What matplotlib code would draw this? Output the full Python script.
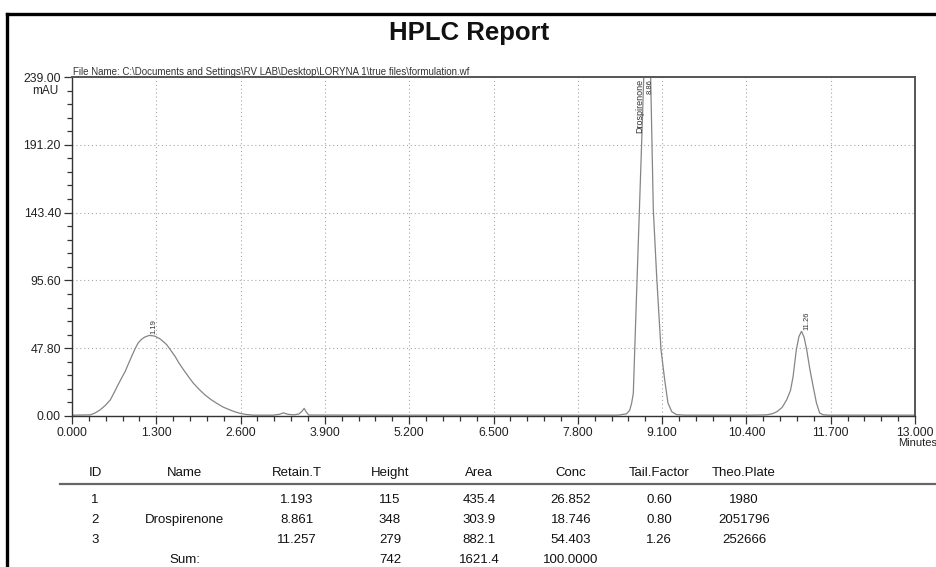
import numpy as np
import matplotlib
matplotlib.use('Agg')
import matplotlib.pyplot as plt
from matplotlib.lines import Line2D
from matplotlib.ticker import MultipleLocator, FormatStrFormatter

plt.rcParams['font.family'] = ['Liberation Sans', 'DejaVu Sans']

W, H = 936, 567

# detector trace (minutes, mAU)
trace_time = [0.00, 0.28, 0.35, 0.43, 0.51, 0.59, 0.65, 0.71, 0.765, 0.82, 0.87, 0.92,
              0.97, 1.02, 1.07, 1.12, 1.19, 1.27, 1.35, 1.40, 1.46, 1.52, 1.59, 1.65,
              1.72, 1.80, 1.87, 1.96, 2.05, 2.14, 2.23, 2.33, 2.44, 2.51, 2.59, 2.68, 2.80,
              3.10, 3.20, 3.26, 3.33, 3.42, 3.50, 3.55, 3.58, 3.61, 3.65,
              5.00, 7.00, 8.42, 8.55, 8.60, 8.63, 8.656, 8.707, 8.785, 8.88,
              8.924, 8.964, 9.016, 9.083, 9.14, 9.19, 9.25, 9.32, 9.45,
              10.50, 10.71, 10.80, 10.87, 10.95, 11.02, 11.08, 11.12, 11.17, 11.21, 11.25,
              11.29, 11.33, 11.38, 11.43, 11.48, 11.53, 11.58, 11.66, 13.00]
trace_mau = [0.6, 0.8, 2.0, 4.2, 7.3, 11.3, 16.5, 22.0, 26.8, 31.4, 36.8, 42.0,
             47.2, 51.5, 54.0, 55.6, 56.8, 56.4, 54.6, 52.8, 50.3, 46.5, 42.0, 37.3,
             32.6, 27.5, 23.2, 18.8, 14.9, 11.7, 9.0, 6.3, 4.2, 3.0, 1.9, 1.1, 0.6,
             0.6, 1.2, 2.2, 1.2, 0.8, 1.4, 3.5, 5.4, 3.0, 0.7,
             0.6, 0.6, 0.6, 1.5, 4.0, 9.0, 16.0, 87.0, 193.0, 330.0,
             238.0, 146.0, 98.6, 46.7, 25.5, 9.2, 3.0, 1.0, 0.6,
             0.6, 0.8, 1.6, 3.0, 6.0, 11.3, 18.0, 27.8, 46.7, 56.0, 59.7,
             55.5, 46.7, 32.6, 20.7, 9.2, 2.1, 0.9, 0.6, 0.6]

# peak annotations
peak_rt = [1.19, 8.86, 11.26]
peak_top = [56.8, 239.0, 59.7]
peak_name = ['', 'Drospirenone', '']

# result table
col_names = ['ID', 'Name', 'Retain.T', 'Height', 'Area', 'Conc', 'Tail.Factor', 'Theo.Plate']
ids = ['1', '2', '3']
names = ['', 'Drospirenone', '']
retain_t = ['1.193', '8.861', '11.257']
heights = ['115', '348', '279']
areas = ['435.4', '303.9', '882.1']
concs = ['26.852', '18.746', '54.403']
tail_factor = ['0.60', '0.80', '1.26']
theo_plate = ['1980', '2051796', '252666']
sum_row = ['', 'Sum:', '', '742', '1621.4', '100.0000', '', '']

file_name = r'File Name: C:\Documents and Settings\RV LAB\Desktop\LORYNA 1\true files\formulation.wf'


def fx(px):
    return px / W


def fy(py):
    return 1 - py / H


fig = plt.figure(figsize=(9.36, 5.67), dpi=100)
fig.patch.set_facecolor('white')

# outer report frame (only top and left visible)
fig.add_artist(Line2D([fx(7), fx(7)], [fy(14), fy(567)], color='black', lw=2.4))
fig.add_artist(Line2D([fx(7), fx(936)], [fy(14), fy(14)], color='black', lw=2.4))

fig.text(fx(469), fy(33), 'HPLC Report', fontsize=18.5, fontweight='bold',
         ha='center', va='center', color='#111111')

ax = fig.add_axes([fx(72), fy(416), fx(915) - fx(72), fy(77) - fy(416)])
ax.plot(trace_time, trace_mau, color='#858585', lw=0.9)
ax.set_xlim(0, 13)
ax.set_ylim(0, 239)

ax.xaxis.set_major_locator(MultipleLocator(1.3))
ax.xaxis.set_minor_locator(MultipleLocator(0.26))
ax.yaxis.set_major_locator(MultipleLocator(47.8))
ax.yaxis.set_minor_locator(MultipleLocator(9.56))
ax.xaxis.set_major_formatter(FormatStrFormatter('%.3f'))
ax.yaxis.set_major_formatter(FormatStrFormatter('%.2f'))
ax.tick_params(which='major', direction='out', length=6, width=0.9, color='#333333',
               labelsize=8.8, labelcolor='#222222', pad=2)
ax.tick_params(which='minor', direction='out', length=3.5, width=0.9, color='#333333')
ax.grid(True, which='major', linestyle=(0, (1, 2.5)), color='#a8a8a8', lw=0.8)

for side in ['left', 'bottom']:
    ax.spines[side].set_color('#333333')
    ax.spines[side].set_linewidth(1.0)
for side in ['top', 'right']:
    ax.spines[side].set_color('#555555')
    ax.spines[side].set_linewidth(1.4)

# peak labels
for rt, top, name in zip(peak_rt, peak_top, peak_name):
    if name:
        ax.annotate(name, xy=(rt, top), xytext=(-5, -1.5), textcoords='offset points',
                    rotation=90, ha='center', va='top', fontsize=6.5, color='#333333')
        ax.annotate('%.2f' % rt, xy=(rt, top), xytext=(2.5, -1.5), textcoords='offset points',
                    rotation=90, ha='center', va='top', fontsize=5.5, color='#333333')
    else:
        ax.annotate('%.2f' % rt, xy=(rt, top), xytext=(3.5, 1.0), textcoords='offset points',
                    rotation=90, ha='center', va='bottom', fontsize=5.5, color='#333333')

fig.text(fx(73), fy(75), file_name, fontsize=7, ha='left', va='baseline', color='#333333')
fig.text(fx(58), fy(91), 'mAU', fontsize=8.5, ha='right', va='center', color='#222222')
fig.text(fx(898), fy(443), 'Minutes', fontsize=8, ha='left', va='center', color='#222222')

# result table under the chromatogram
col_x = [95, 185, 297, 390, 479, 571, 659, 744]
for x, label in zip(col_x, col_names):
    fig.text(fx(x), fy(473), label, fontsize=9.5, ha='center', va='center', color='#111111')
fig.add_artist(Line2D([fx(60), fx(936)], [fy(484), fy(484)], color='#666666', lw=1.6))

rows = list(zip(ids, names, retain_t, heights, areas, concs, tail_factor, theo_plate))
row_y = [500, 520, 540]
for y, row in zip(row_y, rows):
    for x, val in zip(col_x, row):
        fig.text(fx(x), fy(y), val, fontsize=9.5, ha='center', va='center', color='#111111')
for x, val in zip(col_x, sum_row):
    fig.text(fx(x), fy(560), val, fontsize=9.5, ha='center', va='center', color='#111111')

fig.savefig('out.png', dpi=100)
